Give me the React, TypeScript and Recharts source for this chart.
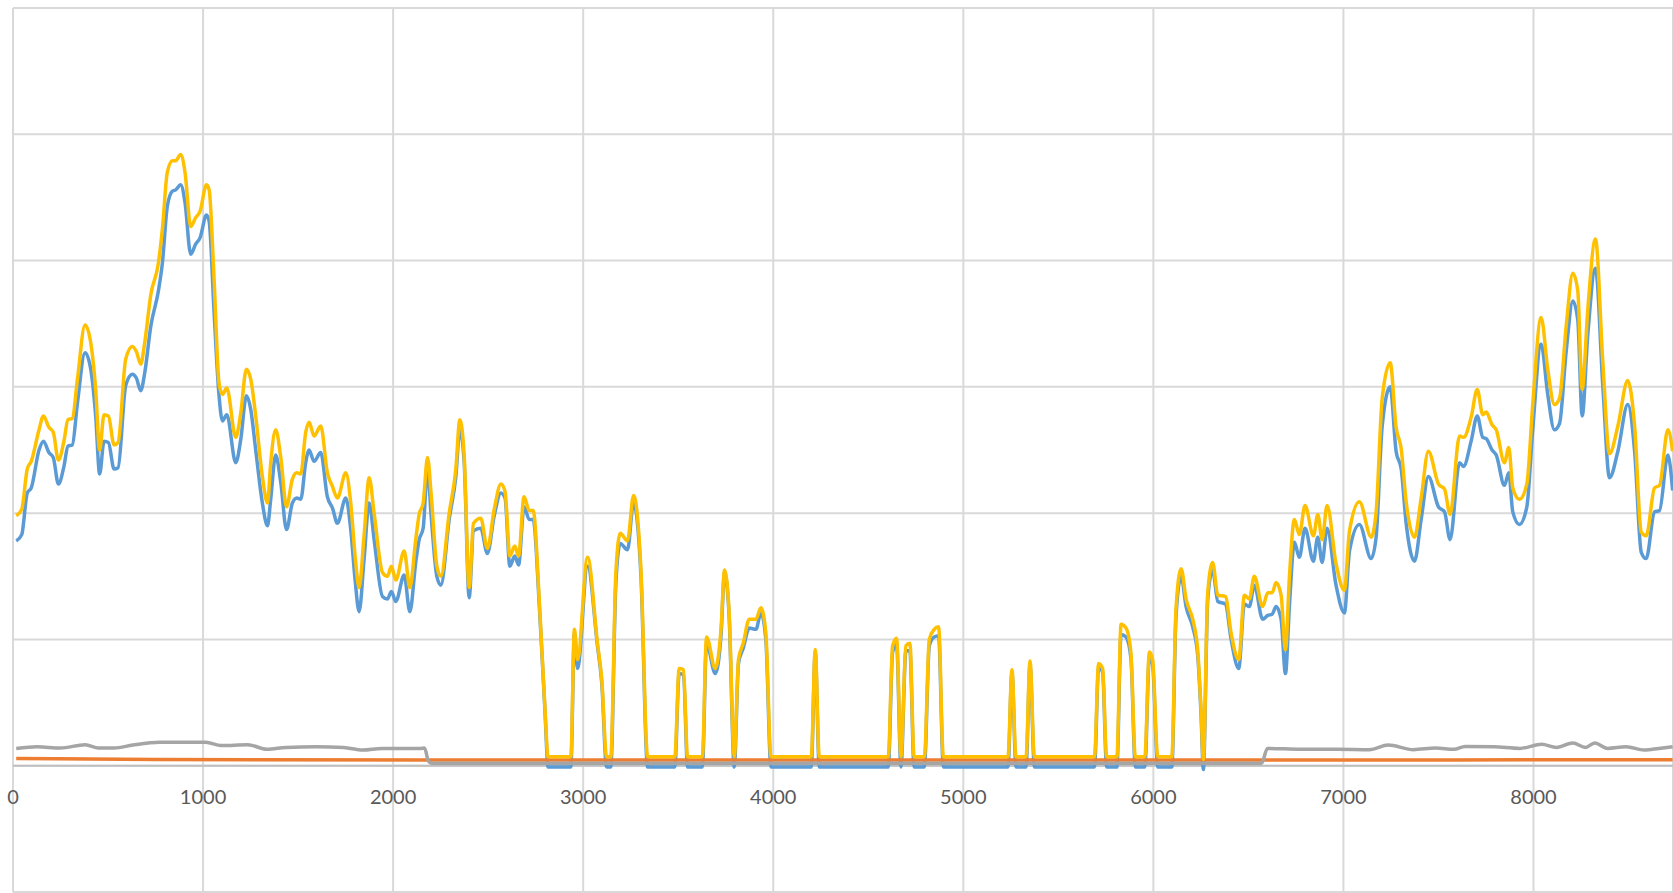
import React from "react"
import { LineChart, Line, XAxis, YAxis, CartesianGrid, ReferenceLine } from "recharts"

const X_TICKS = [0, 1000, 2000, 3000, 4000, 5000, 6000, 7000, 8000]
const Y_TICKS = [-1, 0, 1, 2, 3, 4, 5, 6]

// sample positions shared by the blue and yellow series
const SAMPLE_X = [
    17, 46, 75, 96, 137, 160, 189, 212, 239, 268, 289, 312, 339, 379, 409, 435, 456, 479, 502, 532,
    553, 593, 628, 649, 672, 693, 725, 765, 786, 812, 839, 856, 882, 905, 935, 961, 984, 1018, 1032, 1058,
    1084, 1102, 1125, 1172, 1198, 1228, 1251, 1277, 1312, 1339, 1356, 1382, 1409, 1439, 1470, 1493, 1514, 1540, 1558, 1584,
    1619, 1654, 1681, 1707, 1751, 1777, 1800, 1821, 1847, 1874, 1900, 1944, 1970, 1991, 2014, 2058, 2088, 2119, 2137, 2158,
    2181, 2200, 2230, 2251, 2295, 2330, 2351, 2374, 2400, 2423, 2461, 2496, 2532, 2567, 2589, 2614, 2640, 2660, 2689, 2716,
    2737, 2768, 2800, 2815, 2935, 2954, 2970, 3023, 3075, 3098, 3123, 3145, 3172, 3195, 3233, 3265, 3304, 3339, 3482, 3505,
    3528, 3549, 3627, 3649, 3695, 3725, 3744, 3768, 3795, 3817, 3842, 3874, 3909, 3935, 3961, 3988, 4200, 4221, 4242, 4605,
    4628, 4649, 4672, 4698, 4719, 4741, 4795, 4821, 4847, 4870, 4895, 5235, 5256, 5277, 5330, 5351, 5374, 5690, 5712, 5733,
    5754, 5808, 5830, 5856, 5882, 5905, 5955, 5979, 5996, 6023, 6097, 6119, 6146, 6172, 6207, 6233, 6251, 6263, 6286, 6312,
    6339, 6379, 6409, 6449, 6479, 6505, 6531, 6575, 6602, 6625, 6646, 6672, 6695, 6716, 6742, 6768, 6798, 6842, 6865, 6888,
    6914, 6961, 7005, 7032, 7084, 7146, 7172, 7204, 7246, 7277, 7304, 7330, 7374, 7409, 7447, 7500, 7532, 7561, 7611, 7632,
    7672, 7704, 7733, 7751, 7782, 7804, 7847, 7870, 7891, 7926, 7965, 7996, 8040, 8075, 8110, 8137, 8172, 8207, 8233, 8256,
    8286, 8326, 8365, 8400, 8444, 8496, 8532, 8567, 8593, 8637, 8663, 8707, 8732,
]

const BLUE = [
    1.78, 1.83, 2.16, 2.2, 2.5, 2.57, 2.48, 2.44, 2.23, 2.37, 2.53, 2.54, 2.87, 3.27, 3.14, 2.77, 2.31, 2.57, 2.56, 2.35,
    2.36, 3.01, 3.1, 3.07, 2.97, 3.11, 3.48, 3.76, 3.98, 4.43, 4.55, 4.56, 4.6, 4.46, 4.05, 4.13, 4.18, 4.36, 4.31, 3.59,
    2.93, 2.73, 2.78, 2.4, 2.58, 2.93, 2.82, 2.5, 2.08, 1.9, 2.11, 2.46, 2.24, 1.87, 2.08, 2.12, 2.11, 2.4, 2.5, 2.41,
    2.48, 2.13, 2.04, 1.92, 2.12, 1.87, 1.47, 1.22, 1.63, 2.08, 1.79, 1.34, 1.32, 1.38, 1.3, 1.51, 1.22, 1.61, 1.79, 1.88,
    2.35, 1.98, 1.5, 1.43, 1.95, 2.29, 2.66, 2.4, 1.33, 1.86, 1.88, 1.68, 1.98, 2.16, 2.12, 1.58, 1.66, 1.59, 2.05, 1.95,
    1.95, 1.3, 0.4, -0.01, -0.01, 1.05, 0.77, 1.58, 0.95, 0.65, -0.01, -0.01, 1.45, 1.76, 1.71, 2.08, 1.5, -0.01, -0.01, 0.73,
    0.72, -0.01, -0.01, 0.97, 0.73, 1.03, 1.53, 1.18, -0.01, 0.81, 0.93, 1.09, 1.08, 1.21, 1.0, -0.01, -0.01, 0.9, -0.01, -0.01,
    0.9, 0.96, -0.01, 0.91, 0.91, -0.01, -0.01, 0.95, 1.02, 1.03, -0.01, -0.01, 0.74, -0.01, -0.01, 0.8, -0.01, -0.01, 0.78, 0.74,
    -0.01, -0.01, 1.04, 1.02, 0.85, -0.01, -0.01, 0.86, 0.8, -0.01, -0.01, 1.18, 1.5, 1.26, 1.1, 0.88, 0.4, -0.03, 1.32, 1.55,
    1.3, 1.28, 1.0, 0.77, 1.28, 1.26, 1.43, 1.16, 1.19, 1.2, 1.26, 1.16, 0.73, 1.27, 1.77, 1.65, 1.88, 1.62, 1.81, 1.61,
    1.88, 1.43, 1.21, 1.7, 1.91, 1.64, 1.81, 2.69, 3.0, 2.49, 2.35, 1.92, 1.62, 1.95, 2.29, 2.05, 2.01, 1.79, 2.4, 2.37,
    2.57, 2.77, 2.6, 2.59, 2.5, 2.46, 2.22, 2.32, 2.01, 1.91, 2.05, 2.66, 3.34, 2.94, 2.66, 2.71, 3.28, 3.68, 3.53, 2.77,
    3.42, 3.94, 3.0, 2.28, 2.49, 2.86, 2.49, 1.69, 1.64, 2.01, 2.02, 2.46, 2.18,
]

const YELLOW = [
    1.98, 2.03, 2.35, 2.41, 2.66, 2.77, 2.68, 2.64, 2.42, 2.57, 2.74, 2.75, 3.06, 3.49, 3.35, 2.98, 2.5, 2.78, 2.77, 2.54,
    2.56, 3.22, 3.32, 3.28, 3.18, 3.35, 3.73, 3.98, 4.25, 4.7, 4.79, 4.79, 4.84, 4.7, 4.27, 4.34, 4.39, 4.6, 4.56, 3.85,
    3.03, 2.94, 2.99, 2.6, 2.79, 3.14, 3.06, 2.77, 2.29, 2.08, 2.4, 2.66, 2.44, 2.05, 2.27, 2.32, 2.31, 2.64, 2.72, 2.61,
    2.69, 2.32, 2.21, 2.12, 2.32, 2.08, 1.66, 1.41, 1.82, 2.28, 2.0, 1.53, 1.5, 1.58, 1.47, 1.7, 1.41, 1.79, 1.99, 2.08,
    2.44, 2.15, 1.58, 1.5, 2.0, 2.35, 2.74, 2.45, 1.41, 1.92, 1.96, 1.72, 2.03, 2.23, 2.17, 1.66, 1.74, 1.66, 2.13, 2.02,
    2.02, 1.34, 0.42, 0.07, 0.07, 1.08, 0.84, 1.65, 0.97, 0.68, 0.07, 0.07, 1.53, 1.84, 1.78, 2.14, 1.55, 0.07, 0.07, 0.77,
    0.76, 0.07, 0.07, 1.02, 0.77, 1.08, 1.55, 1.21, 0.07, 0.84, 0.97, 1.16, 1.16, 1.25, 1.05, 0.07, 0.07, 0.92, 0.07, 0.07,
    0.95, 1.01, 0.07, 0.95, 0.97, 0.07, 0.07, 1.0, 1.08, 1.1, 0.07, 0.07, 0.76, 0.07, 0.07, 0.83, 0.07, 0.07, 0.81, 0.77,
    0.07, 0.07, 1.12, 1.09, 0.89, 0.07, 0.07, 0.9, 0.84, 0.07, 0.07, 1.24, 1.56, 1.32, 1.16, 0.92, 0.44, 0.05, 1.37, 1.61,
    1.35, 1.34, 1.05, 0.84, 1.35, 1.32, 1.5, 1.26, 1.37, 1.37, 1.45, 1.35, 0.92, 1.5, 1.95, 1.83, 2.06, 1.82, 1.99, 1.79,
    2.06, 1.6, 1.39, 1.86, 2.09, 1.81, 2.01, 2.91, 3.19, 2.68, 2.51, 2.09, 1.81, 2.12, 2.49, 2.23, 2.19, 1.99, 2.61, 2.6,
    2.76, 2.98, 2.78, 2.8, 2.7, 2.66, 2.4, 2.52, 2.2, 2.11, 2.23, 2.86, 3.55, 3.14, 2.86, 2.91, 3.48, 3.9, 3.76, 2.98,
    3.62, 4.17, 3.19, 2.47, 2.69, 3.05, 2.69, 1.85, 1.82, 2.2, 2.22, 2.66, 2.49,
]

const GRAY_X = [
    17, 128, 249, 380, 450, 531, 631, 772, 1014, 1095, 1235, 1336, 1437, 1598, 1739, 1840, 1941, 2142, 2165, 2185,
    2200, 6570, 6600, 6773, 6966, 7137, 7235, 7369, 7485, 7582, 7640, 7793, 7928, 8043, 8121, 8207, 8274, 8322, 8390, 8487,
    8583, 8660, 8732,
]
const GRAY = [
    0.137, 0.15, 0.14, 0.166, 0.14, 0.14, 0.164, 0.185, 0.185, 0.16, 0.166, 0.13, 0.145, 0.15, 0.145, 0.124, 0.137, 0.137, 0.14, 0.04,
    0.02, 0.02, 0.137, 0.13, 0.13, 0.127, 0.164, 0.127, 0.14, 0.13, 0.153, 0.15, 0.137, 0.17, 0.145, 0.18, 0.145, 0.18, 0.137, 0.15,
    0.124, 0.137, 0.15,
]

const ORANGE_X = [17, 750, 2200, 6600, 8732]
const ORANGE = [0.058, 0.05, 0.045, 0.045, 0.048]

const X_MAX = 8734
const LABEL_Y = 804

const mainData = SAMPLE_X.map((x, i) => ({ x, blue: BLUE[i], yellow: YELLOW[i] }))
const grayData = GRAY_X.map((x, i) => ({ x, gray: GRAY[i] }))
const orangeData = ORANGE_X.map((x, i) => ({ x, orange: ORANGE[i] }))

function XTick({ x, payload }: any) {
    return (
        <text x={x} y={LABEL_Y} textAnchor="middle" fill="#595959" fontSize={20} fontFamily="Lato">
            {payload.value}
        </text>
    )
}

export default function App() {
    return (
        <div style={{ position: "absolute", left: 0, top: 0, width: 1673, height: 893, background: "#fff" }}>
            <LineChart width={1673} height={893} data={mainData} margin={{ top: 8, right: 0, left: 13, bottom: 0 }}>
                <CartesianGrid stroke="#d9d9d9" strokeWidth={2} />
                <XAxis
                    type="number"
                    dataKey="x"
                    domain={[0, X_MAX]}
                    ticks={X_TICKS}
                    allowDataOverflow
                    axisLine={false}
                    tickLine={false}
                    height={1}
                    tick={<XTick />}
                />
                <YAxis type="number" domain={[-1, 6]} ticks={Y_TICKS} hide width={0} />
                <ReferenceLine y={0} stroke="#bfbfbf" strokeWidth={2} />
                <Line dataKey="blue" type="monotone" stroke="#5b9bd5" strokeWidth={3.5} dot={false} isAnimationActive={false} />
                <Line data={orangeData} dataKey="orange" type="monotone" stroke="#ed7d31" strokeWidth={3.5} dot={false} isAnimationActive={false} />
                <Line data={grayData} dataKey="gray" type="monotone" stroke="#a5a5a5" strokeWidth={3.5} dot={false} isAnimationActive={false} />
                <Line dataKey="yellow" type="monotone" stroke="#ffc000" strokeWidth={3.5} dot={false} isAnimationActive={false} />
            </LineChart>
        </div>
    )
}
